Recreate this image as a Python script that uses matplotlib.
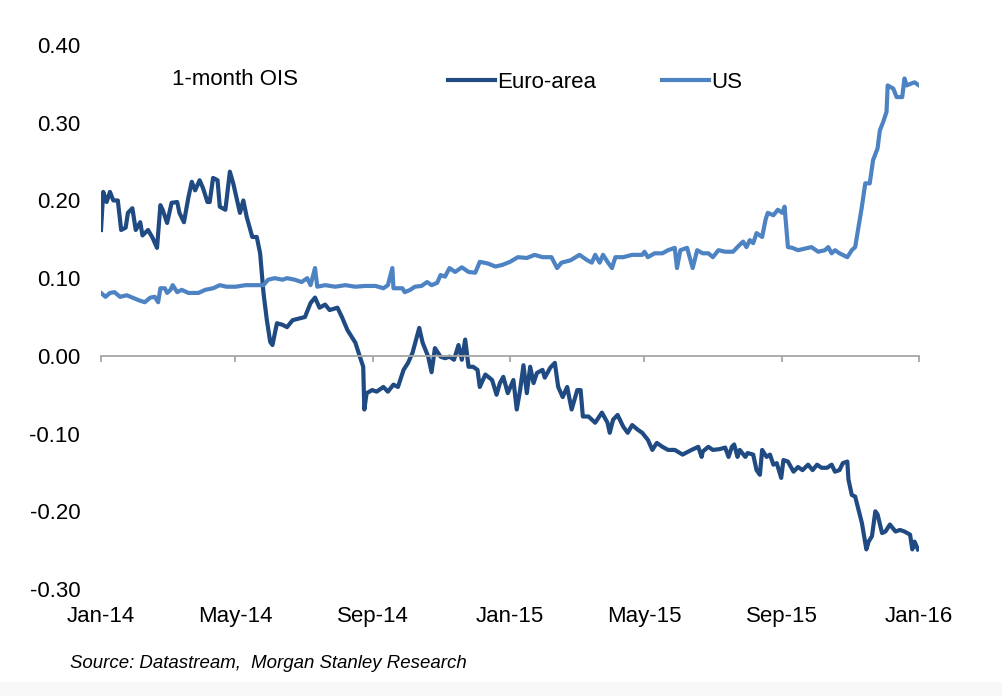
import pandas as pd
import matplotlib
matplotlib.use("Agg")
import matplotlib.pyplot as plt
import matplotlib.dates as mdates
from matplotlib.patches import Rectangle

# days after 1 Jan 2014, values in %
euro_days = [0, 2, 5, 8, 11, 15, 18, 22, 24, 28, 31, 35, 37, 42, 46, 50, 53, 55, 59, 63,
             68, 70, 74, 78, 81, 84, 88, 91, 95, 97, 100, 104, 106, 111, 115, 118, 121, 124, 127, 130,
             135, 139, 142, 145, 148, 151, 153, 157, 162, 166, 171, 182, 187, 191, 195, 200, 204, 211, 215, 220,
             227, 231, 234, 235, 237, 242, 246, 252, 256, 261, 265, 270, 274, 278, 284, 287, 292, 295, 298, 303,
             307, 311, 315, 319, 322, 325, 328, 332, 336, 338, 343, 349, 353, 356, 359, 363, 368, 371, 374, 377,
             380, 383, 386, 389, 394, 396, 401, 405, 408, 412, 416, 420, 425, 428, 430, 435, 441, 447, 452, 454,
             457, 461, 466, 470, 474, 479, 483, 488, 492, 496, 501, 506, 512, 519, 527, 533, 536, 537, 542, 546,
             552, 557, 560, 563, 565, 568, 570, 575, 577, 582, 585, 588, 590, 594, 597, 600, 603, 607, 609, 613,
             618, 622, 626, 631, 635, 639, 643, 648, 652, 655, 659, 662, 666, 667, 670, 673, 676, 679, 683, 685,
             688, 691, 693, 697, 700, 704, 709, 713, 717, 722, 724, 726, 729]
euro_vals = [0.162, 0.211, 0.198, 0.211, 0.200, 0.200, 0.162, 0.165, 0.184, 0.190, 0.162, 0.172, 0.155, 0.162, 0.152, 0.139, 0.194, 0.188, 0.171, 0.197,
             0.198, 0.184, 0.172, 0.204, 0.224, 0.213, 0.226, 0.216, 0.198, 0.198, 0.229, 0.226, 0.192, 0.188, 0.237, 0.222, 0.203, 0.184, 0.200, 0.179,
             0.153, 0.153, 0.132, 0.081, 0.046, 0.018, 0.014, 0.042, 0.040, 0.037, 0.046, 0.050, 0.068, 0.075, 0.062, 0.066, 0.059, 0.062, 0.050, 0.033,
             0.017, -0.001, -0.014, -0.069, -0.048, -0.044, -0.046, -0.040, -0.046, -0.037, -0.040, -0.018, -0.009, 0.004, 0.036, 0.017, -0.001, -0.021, 0.010, -0.001,
             -0.003, -0.001, -0.005, 0.014, -0.005, 0.021, -0.014, -0.014, -0.018, -0.040, -0.024, -0.031, -0.050, -0.035, -0.027, -0.048, -0.031, -0.069, -0.044, -0.012,
             -0.048, -0.014, -0.035, -0.022, -0.018, -0.028, -0.015, -0.009, -0.040, -0.053, -0.040, -0.069, -0.044, -0.044, -0.078, -0.078, -0.086, -0.073, -0.086, -0.099,
             -0.082, -0.076, -0.091, -0.099, -0.089, -0.095, -0.099, -0.108, -0.121, -0.112, -0.117, -0.121, -0.121, -0.127, -0.121, -0.117, -0.130, -0.123, -0.117, -0.121,
             -0.120, -0.118, -0.130, -0.117, -0.114, -0.130, -0.121, -0.130, -0.125, -0.127, -0.147, -0.153, -0.121, -0.130, -0.127, -0.140, -0.138, -0.157, -0.134, -0.136,
             -0.149, -0.143, -0.147, -0.140, -0.147, -0.140, -0.144, -0.144, -0.140, -0.149, -0.147, -0.138, -0.136, -0.159, -0.179, -0.181, -0.198, -0.215, -0.249, -0.239,
             -0.232, -0.200, -0.204, -0.228, -0.226, -0.217, -0.226, -0.224, -0.226, -0.230, -0.249, -0.239, -0.249]

us_days = [0, 4, 8, 12, 17, 23, 28, 33, 39, 44, 48, 51, 53, 57, 59, 62, 64, 68, 72, 78,
           87, 93, 100, 106, 112, 120, 129, 137, 145, 149, 155, 162, 166, 173, 179, 184, 187, 191, 193, 200,
           209, 218, 227, 236, 245, 252, 256, 260, 261, 269, 271, 276, 280, 286, 291, 295, 300, 303, 307, 311,
           316, 322, 328, 334, 338, 345, 352, 358, 365, 372, 380, 387, 394, 402, 407, 411, 419, 427, 434, 438,
           441, 445, 448, 452, 456, 459, 466, 474, 483, 485, 488, 494, 501, 506, 512, 514, 517, 523, 528, 532,
           537, 542, 546, 551, 557, 564, 570, 573, 576, 579, 582, 585, 590, 593, 595, 600, 604, 608, 610, 613,
           617, 622, 628, 634, 640, 646, 649, 652, 655, 659, 666, 670, 673, 676, 679, 682, 686, 689, 693, 695,
           698, 701, 702, 707, 710, 715, 717, 719, 724, 726, 730]
us_vals = [0.081, 0.076, 0.081, 0.082, 0.076, 0.078, 0.075, 0.072, 0.069, 0.075, 0.076, 0.069, 0.087, 0.087, 0.081, 0.085, 0.091, 0.082, 0.085, 0.081,
           0.081, 0.085, 0.087, 0.091, 0.089, 0.089, 0.091, 0.091, 0.091, 0.098, 0.100, 0.098, 0.100, 0.098, 0.095, 0.100, 0.091, 0.113, 0.089, 0.091,
           0.089, 0.091, 0.089, 0.090, 0.090, 0.087, 0.091, 0.113, 0.087, 0.087, 0.082, 0.085, 0.089, 0.090, 0.095, 0.091, 0.094, 0.104, 0.102, 0.113,
           0.108, 0.114, 0.108, 0.107, 0.121, 0.119, 0.115, 0.117, 0.121, 0.127, 0.126, 0.130, 0.127, 0.127, 0.113, 0.120, 0.123, 0.130, 0.123, 0.120,
           0.130, 0.120, 0.130, 0.121, 0.113, 0.127, 0.127, 0.130, 0.130, 0.134, 0.127, 0.132, 0.132, 0.136, 0.139, 0.113, 0.136, 0.139, 0.113, 0.136,
           0.132, 0.132, 0.127, 0.136, 0.134, 0.134, 0.143, 0.147, 0.140, 0.149, 0.145, 0.158, 0.153, 0.175, 0.184, 0.181, 0.188, 0.184, 0.192, 0.140,
           0.139, 0.136, 0.138, 0.140, 0.134, 0.136, 0.140, 0.132, 0.136, 0.132, 0.127, 0.136, 0.140, 0.166, 0.192, 0.222, 0.222, 0.252, 0.267, 0.290,
           0.301, 0.314, 0.348, 0.344, 0.333, 0.333, 0.357, 0.348, 0.351, 0.352, 0.348]

tick_dates = ["2014-01-01", "2014-05-01", "2014-09-01", "2015-01-01", "2015-05-01", "2015-09-01", "2016-01-01"]
y_ticks = [-0.30, -0.20, -0.10, 0.00, 0.10, 0.20, 0.30, 0.40]

start = pd.Timestamp("2014-01-01")
euro = pd.Series(euro_vals, index=start + pd.to_timedelta(euro_days, unit="D"))
us = pd.Series(us_vals, index=start + pd.to_timedelta(us_days, unit="D"))
ticks = pd.to_datetime(tick_dates)

plt.rcParams["font.family"] = ["Liberation Sans", "DejaVu Sans"]

fig = plt.figure(figsize=(10.02, 6.96), dpi=100)
fig.patches.append(Rectangle((0, 0), 1, 14 / 696, transform=fig.transFigure,
                             facecolor="#f8f8f8", edgecolor="none", zorder=0))
ax = fig.add_axes([0.1008, 0.1537, 0.8164, 0.7816])

ax.plot(euro.index, euro.values, color="#1f4a82", lw=3.0, label="Euro-area", solid_joinstyle="round")
ax.plot(us.index, us.values, color="#4d82c3", lw=3.0, label="US", solid_joinstyle="round")

ax.set_xlim(ticks[0], ticks[-1])
ax.set_ylim(-0.30, 0.40)
ax.set_yticks(y_ticks)
ax.set_yticklabels([f"{v:.2f}" for v in y_ticks])
ax.tick_params(axis="y", length=0, pad=15, labelsize=16)

for s in ["top", "right", "left"]:
    ax.spines[s].set_visible(False)
ax.spines["bottom"].set_position(("data", 0))
ax.spines["bottom"].set_color("#a6a6a6")
ax.spines["bottom"].set_linewidth(1.3)
ax.set_xticks(ticks)
ax.tick_params(axis="x", direction="out", length=4.5, width=1.3, color="#a6a6a6", labelbottom=False)

sec = ax.secondary_xaxis(0.0)
sec.set_xticks(ticks)
sec.xaxis.set_major_formatter(mdates.DateFormatter("%b-%y"))
sec.tick_params(axis="x", length=0, pad=12, labelsize=16)
sec.spines["bottom"].set_visible(False)

ax.text(0.087, 0.936, "1-month OIS", transform=ax.transAxes, fontsize=16, va="center", ha="left")
ax.legend(loc="center left", bbox_to_anchor=(0.424, 0.932), ncol=2, frameon=False, fontsize=16,
          handlelength=2.1, handletextpad=0.1, columnspacing=3.0, borderpad=0, borderaxespad=0)

fig.text(70 / 1002, 1 - 663 / 696, "Source: Datastream,  Morgan Stanley Research",
         fontsize=13.4, style="italic", va="center", ha="left")

fig.savefig("out.png", dpi=100)
